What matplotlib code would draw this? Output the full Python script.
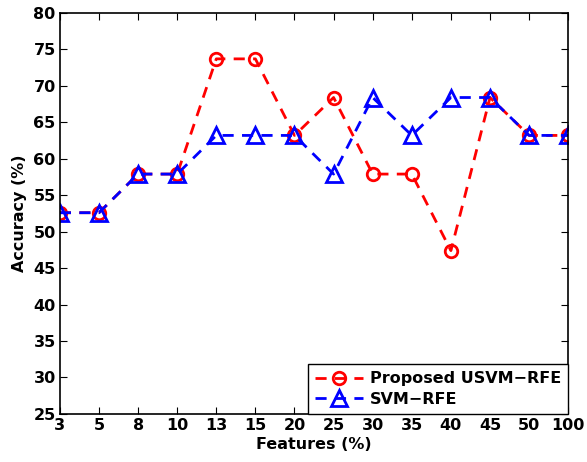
import matplotlib.pyplot as plt
import numpy as np

features = ['3', '5', '8', '10', '13', '15', '20', '25', '30', '35', '40', '45', '50', '100']
usvm_rfe = [52.6, 52.6, 57.9, 57.9, 73.7, 73.7, 63.2, 68.4, 57.9, 57.9, 47.4, 68.4, 63.2, 63.2]
svm_rfe = [52.6, 52.6, 57.9, 57.9, 63.2, 63.2, 63.2, 57.9, 68.4, 63.2, 68.4, 68.4, 63.2, 63.2]

plt.rcParams['font.family'] = ['DejaVu Sans']
plt.rcParams['font.weight'] = 'bold'

fig = plt.figure(figsize=(5.87, 4.62), dpi=100)
ax = fig.add_axes([0.102, 0.104, 0.866, 0.868])

x = np.arange(len(features))
ax.plot(x, usvm_rfe, color='red', linestyle='--', linewidth=2, marker='o',
        markersize=9, markerfacecolor='none', markeredgewidth=2, dashes=(4, 3),
        label='Proposed USVM\u2212RFE')
ax.plot(x, svm_rfe, color='blue', linestyle='--', linewidth=2, marker='^',
        markersize=11, markerfacecolor='none', markeredgewidth=2, dashes=(4, 3),
        label='SVM\u2212RFE')

ax.set_xlim(0, len(features) - 1)
ax.set_ylim(25, 80)
ax.set_xticks(x)
ax.set_xticklabels(features)
ax.set_yticks(np.arange(25, 81, 5))
ax.tick_params(direction='in', top=True, right=True, labelsize=11.5, length=5, pad=3)
for s in ax.spines.values():
    s.set_linewidth(1.2)

ax.set_xlabel('Features (%)', fontsize=11.5, fontweight='bold', labelpad=3)
ax.set_ylabel('Accuracy (%)', fontsize=11.5, fontweight='bold', labelpad=5)

leg = ax.legend(loc='lower right', fontsize=11.5, fancybox=False, framealpha=1,
                edgecolor='black', borderaxespad=0, handlelength=3.0,
                handletextpad=0.4, borderpad=0.45, labelspacing=0.35)
leg.get_frame().set_linewidth(1)

fig.savefig('out.png', dpi=100)
